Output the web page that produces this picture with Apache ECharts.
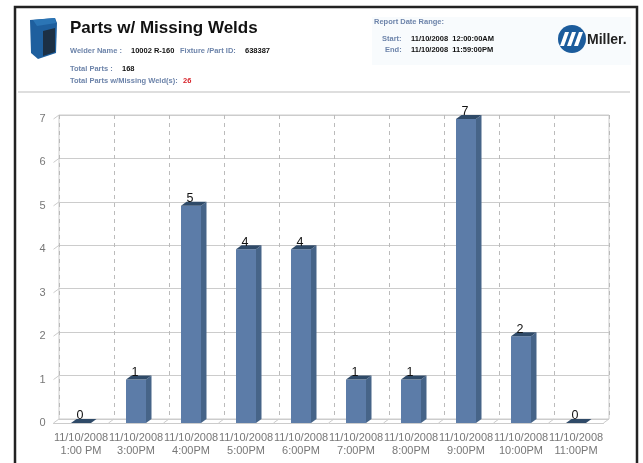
<!DOCTYPE html>
<html>
<head>
<meta charset="utf-8">
<style>
html, body { margin: 0; padding: 0; background: #fff; }
#mychart { width: 643px; height: 463px; filter: blur(0.35px); }
</style>
<script src="https://cdn.jsdelivr.net/npm/echarts@6/dist/echarts.min.js"></script>
</head>
<body>
<div id="mychart"></div>
<script>
var hours = ['11/10/2008\n1:00 PM', '11/10/2008\n3:00PM', '11/10/2008\n4:00PM', '11/10/2008\n5:00PM', '11/10/2008\n6:00PM',
    '11/10/2008\n7:00PM', '11/10/2008\n8:00PM', '11/10/2008\n9:00PM', '11/10/2008\n10:00PM', '11/10/2008\n11:00PM'];
var missingWelds = [0, 1, 5, 4, 4, 1, 1, 7, 2, 0];
var yTicks = [0, 1, 2, 3, 4, 5, 6, 7];

var depthX = 5.5, depthY = 4;
var barW = 20;
var gray = '#cccccc';
var labelFont = 'Liberation Sans';

// the 3d bar: front face, side face, top face and the number above it
function renderBar(params, api) {
    var idx = api.value(0), val = api.value(1);
    var top = api.coord([idx, val]);
    var base = api.coord([idx, 0]);
    var l = top[0] - barW / 2, r = top[0] + barW / 2;
    var t = top[1], b = base[1];
    var kids = [];
    if (val > 0) {
        kids.push({ type: 'rect', shape: { x: l, y: t, width: barW, height: b - t },
            style: { fill: '#5c7ca8' } });
        kids.push({ type: 'polygon', shape: { points: [[r, t], [r + depthX, t - depthY], [r + depthX, b - depthY], [r, b]] },
            style: { fill: '#466488' } });
    }
    kids.push({ type: 'polygon', shape: { points: [[l, t], [l + depthX, t - depthY], [r + depthX, t - depthY], [r, t]] },
        style: { fill: '#2f4a68' } });
    kids.push({ type: 'text', style: { text: String(val), x: top[0] - 1, y: t - 0.5, align: 'center', verticalAlign: 'bottom',
        fill: '#111', font: '12.5px "Liberation Sans"' } });
    return { type: 'group', children: kids };
}

// short slanted lines on the left wall, one per y tick
function renderWall(params, api) {
    var p = api.coord([0, api.value(0)]);
    var x = params.coordSys.x;
    return { type: 'line', shape: { x1: x, y1: p[1], x2: x + depthX, y2: p[1] - depthY },
        style: { stroke: gray, lineWidth: 1 } };
}

// slanted lines on the floor, at the band edges
function renderFloor(params, api) {
    var p = api.coord([api.value(0), 0]);
    var half = api.size([1, 0])[0] / 2;
    var x = p[0] + half;
    return { type: 'line', shape: { x1: x, y1: p[1], x2: x + depthX, y2: p[1] - depthY },
        style: { stroke: gray, lineWidth: 1 } };
}

function headerText(x, y, text, color, font) {
    return { type: 'text', x: x, y: y, silent: true,
        style: { text: text, fill: color, font: font, verticalAlign: 'middle' } };
}

var blueText = '#6d84aa';
var small = 'bold 7.5px "Liberation Sans"';

var header = [
    // frame
    { type: 'rect', shape: { x: 15, y: 7, width: 622, height: 470 }, style: { fill: 'none', stroke: '#222', lineWidth: 2.5 } },
    { type: 'rect', shape: { x: 372, y: 17, width: 259, height: 48 }, style: { fill: '#f8fbfd' } },
    { type: 'line', shape: { x1: 18, y1: 92, x2: 630, y2: 92 }, style: { stroke: '#bdbdbd', lineWidth: 1 } },
    // welder picture
    { type: 'polygon', shape: { points: [[30, 20], [55, 18], [57, 23], [56, 53], [38, 59], [31, 53]] }, style: { fill: '#1e5f9e' } },
    { type: 'polygon', shape: { points: [[43, 31], [55, 28], [55, 52], [43, 56]] }, style: { fill: '#1c3045' } },
    { type: 'polygon', shape: { points: [[33, 20], [55, 18], [56, 23], [37, 26]] }, style: { fill: '#2b75b5' } },
    // logo
    { type: 'circle', shape: { cx: 572, cy: 39, r: 14 }, style: { fill: '#1c5c9c' } },
    { type: 'polygon', shape: { points: [[565, 32], [569, 32], [564, 46], [560, 46]] }, style: { fill: '#fff' } },
    { type: 'polygon', shape: { points: [[572, 32], [576, 32], [571, 46], [567, 46]] }, style: { fill: '#fff' } },
    { type: 'polygon', shape: { points: [[579, 32], [583, 32], [578, 46], [574, 46]] }, style: { fill: '#fff' } },
    headerText(587, 40, 'Miller.', '#222', 'bold 14px "Liberation Sans"'),
    // texts
    headerText(70, 28, 'Parts w/ Missing Welds', '#111', 'bold 17px "Liberation Sans"'),
    headerText(70, 51, 'Welder Name :', blueText, small),
    headerText(131, 51, '10002 R-160', '#111', small),
    headerText(180, 51, 'Fixture /Part ID:', blueText, small),
    headerText(245, 51, '638387', '#111', small),
    headerText(70, 69, 'Total Parts :', blueText, small),
    headerText(122, 69, '168', '#111', small),
    headerText(70, 81, 'Total Parts w/Missing Weld(s):', blueText, small),
    headerText(183, 81, '26', '#d8232a', small),
    headerText(374, 22, 'Report Date Range:', blueText, small),
    headerText(382, 39, 'Start:', blueText, small),
    headerText(411, 39, '11/10/2008  12:00:00AM', '#111', small),
    headerText(385, 50, 'End:', blueText, small),
    headerText(411, 50, '11/10/2008  11:59:00PM', '#111', small)
];

var myChart = echarts.init(document.getElementById('mychart'), null, { renderer: 'canvas' });
var option = {
    animation: false,
    backgroundColor: '#fff',
    graphic: { elements: header },
    grid: [
        { left: 53.5, right: 39.5, top: 119, bottom: 40 },
        // back wall, same scale pushed back by the depth
        { left: 53.5 + depthX, right: 39.5 - depthX, top: 119 - depthY, bottom: 40 + depthY,
            show: true, borderColor: gray, borderWidth: 1, backgroundColor: 'transparent' }
    ],
    xAxis: [
        { type: 'category', gridIndex: 0, data: hours,
            axisLine: { show: true, lineStyle: { color: gray } }, axisTick: { show: false }, splitLine: { show: false },
            axisLabel: { interval: 0, color: '#777', fontFamily: labelFont, fontSize: 11, lineHeight: 13, margin: 8, hideOverlap: false } },
        { type: 'category', gridIndex: 1, data: hours,
            axisLine: { show: false }, axisTick: { show: false }, axisLabel: { show: false },
            splitLine: { show: true, interval: 0, lineStyle: { color: '#bbb', type: [4, 4] } } }
    ],
    yAxis: [
        { type: 'value', gridIndex: 0, min: 0, max: 7, interval: 1,
            axisLine: { show: false }, axisTick: { show: false }, splitLine: { show: false },
            axisLabel: { color: '#777', fontFamily: labelFont, fontSize: 11, margin: 8 } },
        { type: 'value', gridIndex: 1, min: 0, max: 7, interval: 1,
            axisLine: { show: false }, axisTick: { show: false }, axisLabel: { show: false },
            splitLine: { show: true, lineStyle: { color: gray, width: 1 } } }
    ],
    series: [
        { type: 'custom', xAxisIndex: 0, yAxisIndex: 0, z: 3, renderItem: renderWall, silent: true,
            data: yTicks.map(function (v) { return [v]; }), encode: { y: 0 } },
        { type: 'custom', xAxisIndex: 0, yAxisIndex: 0, z: 3, renderItem: renderFloor, silent: true,
            data: missingWelds.map(function (v, i) { return [i]; }), encode: { x: 0 } },
        { type: 'custom', name: 'Missing Welds', xAxisIndex: 0, yAxisIndex: 0, z: 5, renderItem: renderBar,
            data: missingWelds.map(function (v, i) { return [i, v]; }), encode: { x: 0, y: 1 } }
    ]
};
myChart.setOption(option);
</script>
</body>
</html>
